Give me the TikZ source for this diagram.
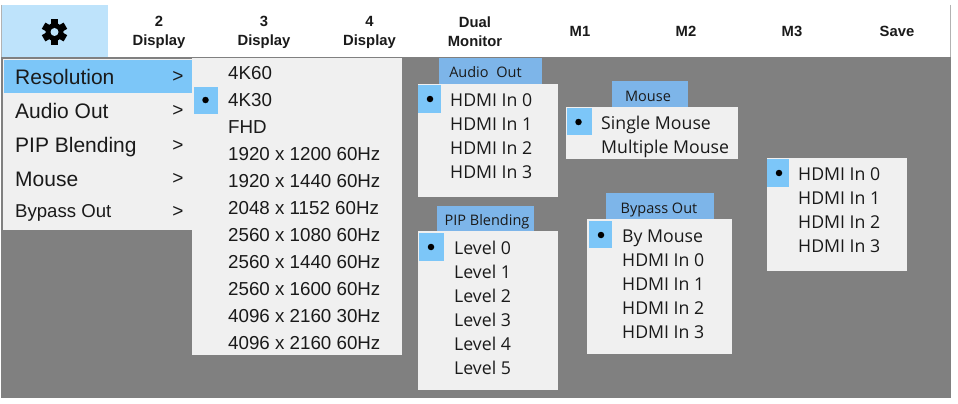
\documentclass[tikz,border=0pt]{standalone}
\usepackage{fontspec}
\setmainfont{Liberation Sans}
\newfontfamily\panelfont{Open Sans}
\definecolor{bggray}{HTML}{808080}
\definecolor{menubg}{HTML}{F0F0F0}
\definecolor{hilite}{HTML}{7CC6F8}
\definecolor{headblue}{HTML}{7DB5E9}
\definecolor{gearbg}{HTML}{BEE3FB}
\definecolor{inktext}{HTML}{1A1A1A}
\tikzset{
  x=1pt,y=-1pt,
  panel/.style={fill=menubg,draw=none},
  hl/.style={fill=hilite,draw=none},
  head/.style={fill=headblue,draw=none},
  topbtn/.style={font=\bfseries\fontsize{14.8}{17}\selectfont,align=center,text=inktext,inner sep=0pt},
  menuitem/.style={anchor=west,inner sep=0pt,text=inktext,text height=15pt,text depth=0pt,font=\fontsize{21}{24}\selectfont},
  resitem/.style={anchor=west,inner sep=0pt,text=inktext,text height=13.4pt,text depth=0pt,font=\fontsize{18.75}{22}\selectfont},
  pitem/.style={anchor=west,inner sep=0pt,text=inktext,text height=12.6pt,text depth=0pt,font=\panelfont\fontsize{17.7}{21}\selectfont},
  htext/.style={inner sep=0pt,text=inktext,text height=10.5pt,text depth=0pt,font=\panelfont\fontsize{14.5}{17}\selectfont},
  arrowmark/.style={inner sep=0pt,text=inktext,font=\fontsize{19}{22}\selectfont},
  bulletdot/.style={circle,fill=black,inner sep=0pt,minimum size=6.5pt},
}
\begin{document}
\begin{tikzpicture}
\useasboundingbox (0,0) rectangle (958,404);
\fill[white] (0,0) rectangle (958,404);
\fill[bggray] (1,57) rectangle (951,398);
\draw[gray!60,line width=0.8pt] (1.5,5) -- (1.5,57);
\draw[gray!60,line width=0.8pt] (950.5,5) -- (950.5,57);
% top bar
\fill[gearbg] (2,5) rectangle (108,57);
\coordinate (gearc) at (54.5,32);
\fill[black] (gearc) circle[radius=9];
\foreach \a in {30,90,150,210,270,330}{
  \fill[black,rotate around={\a:(gearc)}] ([xshift=8pt,yshift=-3.6pt]gearc) rectangle ([xshift=12.6pt,yshift=3.6pt]gearc);
}
\fill[gearbg] (gearc) circle[radius=4];
\node[topbtn] (b2) at (159,32) {2\\[2pt]Display};
\node[topbtn] (b3) at (264,32) {3\\[2pt]Display};
\node[topbtn] (b4) at (369.5,32) {4\\[2pt]Display};
\node[topbtn] (bd) at (475,32) {Dual\\[2pt]Monitor};
\node[topbtn] (m1) at (580,31) {M1};
\node[topbtn] (m2) at (686,31) {M2};
\node[topbtn] (m3) at (792,31) {M3};
\node[topbtn] (sv) at (897,31) {Save};
% left menu
\fill[panel] (3,59) rectangle (192,230);
\fill[hl] (4,60) rectangle (192,93);
\node[menuitem] (r) at (15,77) {Resolution};
\node[menuitem] (a) at (15,111) {Audio Out};
\node[menuitem] (p) at (15,145) {PIP Blending};
\node[menuitem] (mo) at (15,179) {Mouse};
\node[menuitem,text height=13pt,font=\fontsize{18.6}{22}\selectfont] (by) at (15,210.5) {Bypass Out};
\foreach \y/\n in {77/ra,111/aa,146/pa,179/ma,212/ba}{
  \node[arrowmark] (\n) at (178,\y) {>};
}
% resolution submenu
\fill[panel] (192,58) rectangle (402,355);
\fill[hl] (194,87) rectangle (218,114);
\node[bulletdot] (d1) at (205.5,100) {};
\node[resitem] (s1) at (228,73) {4K60};
\node[resitem] (s2) at (228,100) {4K30};
\node[resitem] (s3) at (228,127) {FHD};
\node[resitem] (s4) at (228,154) {1920 x 1200 60Hz};
\node[resitem] (s5) at (228,181) {1920 x 1440 60Hz};
\node[resitem] (s6) at (228,207.5) {2048 x 1152 60Hz};
\node[resitem] (s7) at (228,235) {2560 x 1080 60Hz};
\node[resitem] (s8) at (228,262) {2560 x 1440 60Hz};
\node[resitem] (s9) at (228,289) {2560 x 1600 60Hz};
\node[resitem] (s10) at (228,316) {4096 x 2160 30Hz};
\node[resitem] (s11) at (228,343) {4096 x 2160 60Hz};
% Audio Out
\fill[head] (439,58) rectangle (542,84);
\node[htext] (ah) at (485.5,72.5) {Audio\hspace{4pt} Out};
\fill[panel] (418,84) rectangle (558,197);
\fill[hl] (418,85) rectangle (441,113);
\node[bulletdot] (d2) at (430,99) {};
\node[pitem] (a0) at (450,100) {HDMI In 0};
\node[pitem] (a1) at (450,124) {HDMI In 1};
\node[pitem] (a2) at (450,148) {HDMI In 2};
\node[pitem] (a3) at (450,172) {HDMI In 3};
% Mouse
\fill[head] (612,81) rectangle (688,107);
\node[htext] (mh) at (648,96) {Mouse};
\fill[panel] (566,107) rectangle (738,159);
\fill[hl] (567,108) rectangle (592,135);
\node[bulletdot] (d3) at (578.5,122) {};
\node[pitem] (m0) at (601,123.5) {Single Mouse};
\node[pitem] (m1b) at (601,147.5) {Multiple Mouse};
% PIP
\fill[head] (437,206) rectangle (534,232);
\node[htext] (ph) at (487,220) {PIP Blending};
\fill[panel] (418,231) rectangle (558,390);
\fill[hl] (419,233) rectangle (444,261);
\node[bulletdot] (d4) at (431,247) {};
\node[pitem] (l0) at (454,248) {Level 0};
\node[pitem] (l1) at (454,272) {Level 1};
\node[pitem] (l2) at (454,296) {Level 2};
\node[pitem] (l3) at (454,320) {Level 3};
\node[pitem] (l4) at (454,344) {Level 4};
\node[pitem] (l5) at (454,368) {Level 5};
% Bypass
\fill[head] (606,193) rectangle (714,219);
\node[htext] (bh) at (659,208) {Bypass Out};
\fill[panel] (587,219) rectangle (732,354);
\fill[hl] (589,221) rectangle (612,248);
\node[bulletdot] (d5) at (601,235) {};
\node[pitem] (b0) at (622,236) {By Mouse};
\node[pitem] (b1) at (622,260) {HDMI In 0};
\node[pitem] (b2b) at (622,284) {HDMI In 1};
\node[pitem] (b3b) at (622,308) {HDMI In 2};
\node[pitem] (b4b) at (622,332) {HDMI In 3};
% right panel
\fill[panel] (767,158) rectangle (907,271);
\fill[hl] (767,159) rectangle (789,187);
\node[bulletdot] (d6) at (779,173) {};
\node[pitem] (h0) at (798,174) {HDMI In 0};
\node[pitem] (h1) at (798,198) {HDMI In 1};
\node[pitem] (h2) at (798,222) {HDMI In 2};
\node[pitem] (h3) at (798,246) {HDMI In 3};
\end{tikzpicture}
\end{document}
